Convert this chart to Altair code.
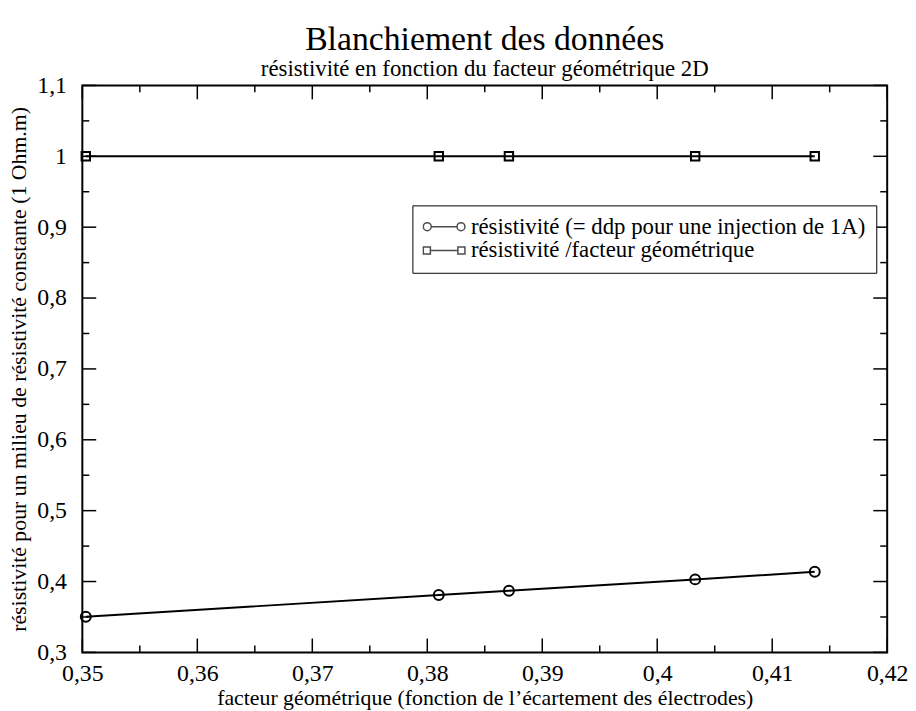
import altair as alt
import pandas as pd

# ---- data ----
facteur = [0.3503, 0.3810, 0.3871, 0.4033, 0.4137]
resistivite = [0.3503, 0.3810, 0.3869, 0.4030, 0.4137]
blanchie = [1.0, 1.0, 1.0, 1.0, 1.0]

serie_a = "résistivité (= ddp pour une injection de 1A)"
serie_b = "résistivité /facteur géométrique"

x_major = [0.35, 0.36, 0.37, 0.38, 0.39, 0.40, 0.41, 0.42]
x_minor = [0.355, 0.365, 0.375, 0.385, 0.395, 0.405, 0.415]
y_major = [0.3, 0.4, 0.5, 0.6, 0.7, 0.8, 0.9, 1.0, 1.1]
y_minor = [0.35, 0.45, 0.55, 0.65, 0.75, 0.85, 0.95, 1.05]

W, H = 812, 572
FONT = "Liberation Serif"

df = pd.DataFrame(
    {"x": facteur * 2,
     "y": resistivite + blanchie,
     "serie": [serie_a] * len(facteur) + [serie_b] * len(facteur)}
)

xs = alt.Scale(domain=[0.35, 0.42], nice=False, zero=False)
ys = alt.Scale(domain=[0.3, 1.1], nice=False, zero=False)

xaxis = alt.Axis(
    title="facteur géométrique (fonction de l’écartement des électrodes)",
    values=x_major, format=".2~f", labelExpr="replace(datum.label, '.', ',')",
    ticks=False, domain=False, grid=False, labelFlush=False, labelOverlap=False,
    labelPadding=9, titlePadding=3,
    labelFont=FONT, labelFontSize=24, titleFont=FONT, titleFontSize=22,
)
yaxis = alt.Axis(
    title="résistivité pour un milieu de résistivité constante (1 Ohm.m)",
    values=y_major, format=".1~f", labelExpr="replace(datum.label, '.', ',')",
    ticks=False, domain=False, grid=False, labelFlush=False, labelOverlap=False,
    labelPadding=16, titlePadding=6,
    labelFont=FONT, labelFontSize=24, titleFont=FONT, titleFontSize=22,
)

base = alt.Chart(df)

lines = base.mark_line(color="black", strokeWidth=2).encode(
    x=alt.X("x:Q", scale=xs, axis=xaxis),
    y=alt.Y("y:Q", scale=ys, axis=yaxis),
    detail="serie:N",
)

points = base.mark_point(color="black", filled=False, strokeWidth=2, opacity=1).encode(
    x=alt.X("x:Q", scale=xs),
    y=alt.Y("y:Q", scale=ys),
    shape=alt.Shape("serie:N", scale=alt.Scale(domain=[serie_a, serie_b], range=["circle", "square"]), legend=None),
    size=alt.Size("serie:N", scale=alt.Scale(domain=[serie_a, serie_b], range=[100, 72]), legend=None),
)

# legend symbols: marker - line - marker
r = 0.19
p_circle = (
    f"M-1,0 A{r},{r} 0 1,1 {-1+2*r},0 A{r},{r} 0 1,1 -1,0 Z "
    f"M{-1+2*r},0 L{1-2*r},0 "
    f"M{1-2*r},0 A{r},{r} 0 1,1 1,0 A{r},{r} 0 1,1 {1-2*r},0 Z"
)
s = 0.17
p_square = (
    f"M-1,{-s} L{-1+2*s},{-s} L{-1+2*s},{s} L-1,{s} Z "
    f"M{-1+2*s},0 L{1-2*s},0 "
    f"M{1-2*s},{-s} L1,{-s} L1,{s} L{1-2*s},{s} Z"
)

legend_layer = base.transform_filter("false").mark_point(
    color="black", filled=False, strokeWidth=1.5
).encode(
    x=alt.X("x:Q", scale=xs),
    y=alt.Y("y:Q", scale=ys),
    shape=alt.Shape(
        "serie:N",
        scale=alt.Scale(domain=[serie_a, serie_b], range=[p_circle, p_square]),
        legend=alt.Legend(
            title=None, orient="none", legendX=333, legendY=121,
            strokeColor="black", fillColor="white", padding=10,
            labelFont=FONT, labelFontSize=23, labelColor="black", labelOffset=5,
            labelLimit=0, symbolSize=1764, symbolStrokeWidth=1.5,
            symbolStrokeColor="black", clipHeight=23, rowPadding=0,
            symbolOffset=0,
        ),
    ),
)

# inward ticks (xmgrace style)
xM = pd.DataFrame({"v": x_major})
xm = pd.DataFrame({"v": x_minor})
yM = pd.DataFrame({"v": y_major})
ym = pd.DataFrame({"v": y_minor})

def xticks(d, L):
    b = alt.Chart(d).mark_rule(color="black", strokeWidth=1.5)
    return [
        b.encode(x=alt.X("v:Q", scale=xs), y=alt.value(H), y2=alt.value(H - L)),
        b.encode(x=alt.X("v:Q", scale=xs), y=alt.value(0), y2=alt.value(L)),
    ]

def yticks(d, L):
    b = alt.Chart(d).mark_rule(color="black", strokeWidth=1.5)
    return [
        b.encode(y=alt.Y("v:Q", scale=ys), x=alt.value(0), x2=alt.value(L)),
        b.encode(y=alt.Y("v:Q", scale=ys), x=alt.value(W), x2=alt.value(W - L)),
    ]

ticks = xticks(xM, 14) + xticks(xm, 7) + yticks(yM, 14) + yticks(ym, 7)

chart = alt.layer(
    lines, points, legend_layer, *ticks
).resolve_scale(
    shape="independent", size="independent"
).properties(
    width=W, height=H,
    title=alt.TitleParams(
        "Blanchiement des données",
        subtitle="résistivité en fonction du facteur géométrique 2D",
        anchor="middle", frame="group", font=FONT, fontSize=34,
        fontWeight="normal", color="black", subtitleFont=FONT,
        subtitleFontSize=23, subtitleColor="black", subtitlePadding=1, offset=-7,
    ),
    autosize=alt.AutoSizeParams(type="none"),
    padding={"left": 75, "top": 75, "right": 21, "bottom": 56},
).configure(
    font=FONT
).configure_view(
    stroke="black", strokeWidth=2
).configure_axis(
    labelFont=FONT, labelFontSize=24, labelColor="black",
    titleFont=FONT, titleFontSize=22, titleColor="black", titleFontWeight="normal",
).configure_legend(
    labelFont=FONT
)

chart.save("out.html", embed_options={"renderer": "svg", "actions": False})
